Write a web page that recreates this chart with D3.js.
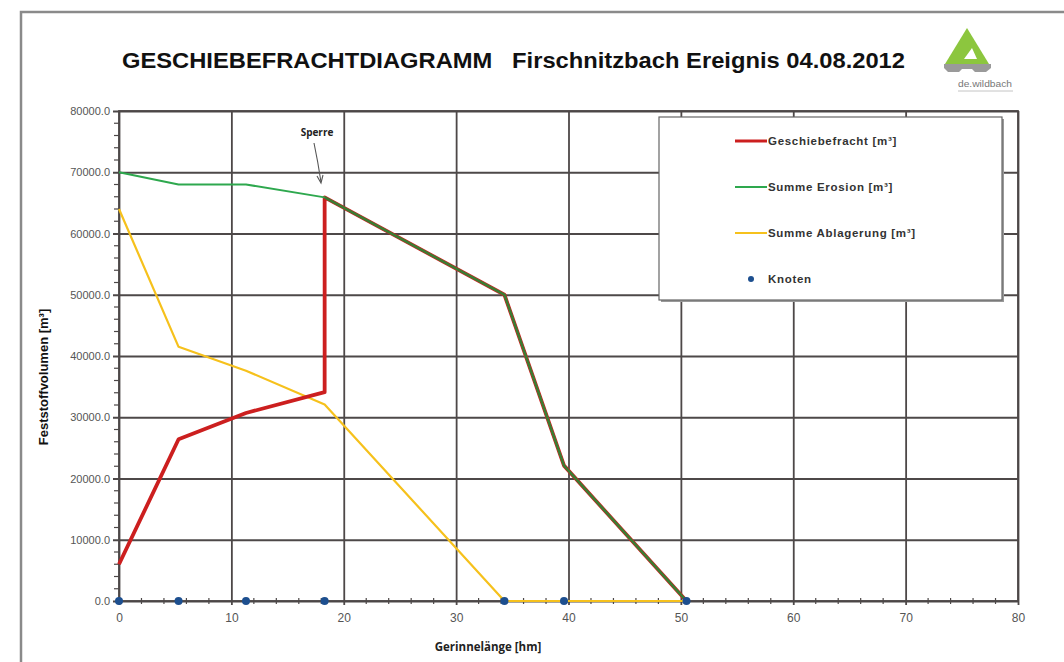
<!DOCTYPE html>
<html>
<head>
<meta charset="utf-8">
<script src="https://cdn.jsdelivr.net/npm/d3@7"></script>
<style>
  html, body { margin: 0; padding: 0; background: #fff; }
  svg { display: block; }
</style>
</head>
<body>
<svg id="chart" width="1064" height="662"></svg>
<script>
// Distances along the channel [hm] at the calculation nodes
const nodesX = [0, 5.3, 11.3, 18.3, 34.3, 39.6, 50.5];

// Bed-load volume (Geschiebefracht) – the barrier at 18.3 hm produces the vertical jump
const frachtX = [0, 5.3, 11.3, 18.3, 18.3, 34.3, 39.6, 50.5];
const frachtY = [6000, 26400, 30700, 34100, 65900, 50000, 22100, 0];

// Cumulative erosion
const erosionX = [0, 5.3, 11.3, 18.3, 34.3, 39.6, 50.5];
const erosionY = [70000, 68000, 68000, 65900, 50000, 22100, 0];

// Cumulative deposition
const ablagerungX = [0, 5.3, 11.3, 18.3, 34.3, 39.6, 50.5];
const ablagerungY = [64000, 41500, 37600, 32100, 0, 0, 0];

const xTicks = [0, 10, 20, 30, 40, 50, 60, 70, 80];
const yTicks = [0, 10000, 20000, 30000, 40000, 50000, 60000, 70000, 80000];

const legendLabels = ["Geschiebefracht [m³]", "Summe Erosion [m³]", "Summe Ablagerung [m³]", "Knoten"];

const C = {
  red: "#cc1f1f",
  green: "#2ea84e",
  yellow: "#f6c11c",
  node: "#1d4f8f",
  grid: "#4d4848",
  text: "#555"
};

const svg = d3.select("#chart");

// Outer frame of the sheet
svg.append("path")
  .attr("d", "M21,662 V12 H1064")
  .attr("fill", "none").attr("stroke", "#8a8a8a").attr("stroke-width", 2.5);

const plot = { left: 119, right: 1018, top: 111, bottom: 601 };

const x = d3.scaleLinear().domain([0, 80]).range([plot.left, plot.right]);
const y = d3.scaleLinear().domain([0, 80000]).range([plot.bottom, plot.top]);

// Title
svg.append("text")
  .attr("x", 122).attr("y", 68)
  .attr("textLength", 783).attr("lengthAdjust", "spacingAndGlyphs")
  .attr("font-family", "Liberation Sans, Arial, sans-serif")
  .attr("font-weight", "bold").attr("font-size", 22).attr("fill", "#111")
  .attr("xml:space", "preserve")
  .text("GESCHIEBEFRACHTDIAGRAMM   Firschnitzbach Ereignis 04.08.2012");

// Logo
const logo = svg.append("g");
logo.append("path")
  .attr("d", "M967,28 L989,64 L945,64 Z")
  .attr("fill", "#8cc63e");
logo.append("path")
  .attr("d", "M964,59 L972,48 L977,59 Z")
  .attr("fill", "#fff");
logo.append("path")
  .attr("d", "M944,64 H991 V68 L986,72 H975 L972,69 H962 L959,72 H948 L944,68 Z")
  .attr("fill", "#9a9a9a");
logo.append("text")
  .attr("x", 958).attr("y", 87)
  .attr("textLength", 54).attr("lengthAdjust", "spacingAndGlyphs")
  .attr("font-family", "Liberation Sans, Arial, sans-serif")
  .attr("font-size", 9).attr("fill", "#777")
  .text("de.wildbach");
logo.append("line")
  .attr("x1", 958).attr("x2", 1013).attr("y1", 91).attr("y2", 91)
  .attr("stroke", "#c4c4c4").attr("stroke-width", 1);

// Minor ticks
const yMinor = d3.range(0, 80001, 2000).filter(v => v % 10000 !== 0);
svg.append("g").selectAll("line").data(yMinor).join("line")
  .attr("x1", plot.left - 5).attr("x2", plot.left)
  .attr("y1", d => y(d)).attr("y2", d => y(d))
  .attr("stroke", C.grid).attr("stroke-width", 1.2);

const xMinor = d3.range(0, 80.01, 2).filter(v => v % 10 !== 0);
svg.append("g").selectAll("line").data(xMinor).join("line")
  .attr("x1", d => x(d)).attr("x2", d => x(d))
  .attr("y1", plot.bottom - 3).attr("y2", plot.bottom + 3)
  .attr("stroke", C.grid).attr("stroke-width", 1.2);

// Grid via axes
const yAxis = d3.axisLeft(y).tickValues(yTicks)
  .tickSize(-(plot.right - plot.left)).tickPadding(9)
  .tickFormat(d => d3.format(".1f")(d));
const gy = svg.append("g").attr("transform", `translate(${plot.left},0)`).call(yAxis);
gy.select(".domain").remove();
gy.selectAll(".tick line")
  .attr("x1", -6)
  .attr("stroke", C.grid).attr("stroke-width", 1.8);
gy.selectAll(".tick text")
  .attr("font-family", "Liberation Sans, Arial, sans-serif")
  .attr("font-size", 11).attr("fill", C.text);

const xAxis = d3.axisBottom(x).tickValues(xTicks)
  .tickSize(-(plot.bottom - plot.top)).tickPadding(12);
const gx = svg.append("g").attr("transform", `translate(0,${plot.bottom})`).call(xAxis);
gx.select(".domain").remove();
gx.selectAll(".tick line")
  .attr("y1", 4)
  .attr("stroke", C.grid).attr("stroke-width", 1.8);
gx.selectAll(".tick text")
  .attr("font-family", "Liberation Sans, Arial, sans-serif")
  .attr("font-size", 12).attr("fill", C.text);

// Plot border
svg.append("rect")
  .attr("x", plot.left).attr("y", plot.top)
  .attr("width", plot.right - plot.left).attr("height", plot.bottom - plot.top)
  .attr("fill", "none").attr("stroke", C.grid).attr("stroke-width", 1.8);

// Axis titles
svg.append("text")
  .attr("transform", `translate(48,377) rotate(-90)`)
  .attr("text-anchor", "middle")
  .attr("font-family", "Liberation Sans, Arial, sans-serif")
  .attr("font-weight", "bold").attr("font-size", 13).attr("fill", "#111")
  .text("Feststoffvolumen [m³]");

svg.append("text")
  .attr("x", 488).attr("y", 651)
  .attr("text-anchor", "middle")
  .attr("font-family", "Open Sans, DejaVu Sans, sans-serif")
  .attr("font-weight", "bold").attr("font-size", 11.5).attr("fill", "#222")
  .text("Gerinnelänge [hm]");

// Series lines
const line = d3.line().x(d => x(d[0])).y(d => y(d[1]));
const zip = (xs, ys) => xs.map((v, i) => [v, ys[i]]);

svg.append("path").datum(zip(ablagerungX, ablagerungY))
  .attr("d", line).attr("fill", "none")
  .attr("stroke", C.yellow).attr("stroke-width", 2.2).attr("stroke-linejoin", "round");

svg.append("path").datum(zip(frachtX, frachtY))
  .attr("d", line).attr("fill", "none")
  .attr("stroke", C.red).attr("stroke-width", 3.8).attr("stroke-linejoin", "round");

svg.append("path").datum(zip(erosionX, erosionY))
  .attr("d", line).attr("fill", "none")
  .attr("stroke", C.green).attr("stroke-width", 2).attr("stroke-linejoin", "round");

// Overlap of load and erosion downstream of the barrier drawn darker
const barrierIdx = erosionX.indexOf(18.3);
svg.append("path").datum(zip(erosionX.slice(barrierIdx), erosionY.slice(barrierIdx)))
  .attr("d", line).attr("fill", "none")
  .attr("stroke", "#3d7a32").attr("stroke-width", 2.4).attr("stroke-linejoin", "round");

// Nodes
svg.append("g").selectAll("circle").data(nodesX).join("circle")
  .attr("cx", d => x(d)).attr("cy", y(0)).attr("r", 4)
  .attr("fill", C.node);

// Barrier annotation
svg.append("text")
  .attr("x", 317).attr("y", 136)
  .attr("text-anchor", "middle")
  .attr("font-family", "Open Sans, DejaVu Sans, sans-serif")
  .attr("font-weight", "bold").attr("font-size", 10).attr("fill", "#222")
  .text("Sperre");
svg.append("path")
  .attr("d", "M314,143 Q318,162 321,182")
  .attr("fill", "none").attr("stroke", "#555").attr("stroke-width", 1.1);
svg.append("path")
  .attr("d", "M317,176 L321,183 L323,175")
  .attr("fill", "none").attr("stroke", "#555").attr("stroke-width", 1.1);

// Legend
const lg = svg.append("g");
lg.append("rect")
  .attr("x", 661).attr("y", 119).attr("width", 343).attr("height", 183)
  .attr("fill", "#999");
lg.append("rect")
  .attr("x", 659).attr("y", 117).attr("width", 343).attr("height", 183)
  .attr("fill", "#fff").attr("stroke", "#666").attr("stroke-width", 1.2);

const legendRows = [
  { type: "line", color: C.red, w: 3 },
  { type: "line", color: C.green, w: 2 },
  { type: "line", color: C.yellow, w: 2 },
  { type: "dot", color: C.node }
];
const rowY = [141, 187, 233, 279];
legendRows.forEach((r, i) => {
  if (r.type === "line") {
    lg.append("line")
      .attr("x1", 735).attr("x2", 767).attr("y1", rowY[i]).attr("y2", rowY[i])
      .attr("stroke", r.color).attr("stroke-width", r.w);
  } else {
    lg.append("circle").attr("cx", 751).attr("cy", rowY[i]).attr("r", 3).attr("fill", r.color);
  }
  lg.append("text")
    .attr("x", 768).attr("y", rowY[i] + 4)
    .attr("font-family", "Liberation Sans, Arial, sans-serif")
    .attr("font-weight", "bold").attr("font-size", 11.5)
    .attr("letter-spacing", 0.7).attr("fill", "#333")
    .text(legendLabels[i]);
});
</script>
</body>
</html>
